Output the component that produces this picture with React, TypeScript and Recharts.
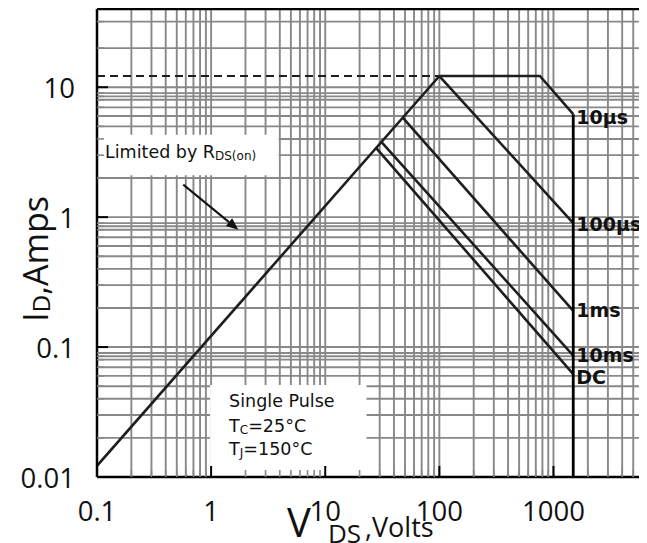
import React from "react";
import {
  CartesianGrid,
  Line,
  LineChart,
  ReferenceArea,
  ReferenceLine,
  XAxis,
  YAxis,
} from "recharts";

const FONT = "'Open Sans', 'Liberation Sans', sans-serif";
const NOTE_FONT = "'DejaVu Sans', Verdana, sans-serif";
const INK = "#1e1e1e";
const GRID = "#888888";

// ejes log-log: V_DS (V) contra I_D (A)
const X_MAJOR = [0.1, 1, 10, 100, 1000];
const X_LABELS = ["0.1", "1", "10", "100", "1000"];
const Y_MAJOR = [0.01, 0.1, 1, 10];
const Y_LABELS = ["0.01", "0.1", "1", "10"];
const X_STEPS = [2, 3, 4, 5, 6, 7, 8, 9];
const Y_STEPS = [2, 3, 4, 5, 6, 7, 8, 8.5, 9];
const Y_EXTRA = [20, 32];
const X_MAX = 6600;
const Y_MAX = 40;

const X_TICKS = [
  ...X_MAJOR,
  ...X_MAJOR.flatMap((d) => X_STEPS.map((m) => d * m)),
].filter((v) => v <= X_MAX).sort((a, b) => a - b);
const Y_TICKS = [
  ...Y_MAJOR,
  ...Y_MAJOR.slice(0, 3).flatMap((d) => Y_STEPS.map((m) => d * m)),
  ...Y_EXTRA,
].sort((a, b) => a - b);

// curvas SOA
const RDS_V = [0.1, 100];
const RDS_I = [0.0122, 12.2];
const LIMIT_V = [0.1, 100];
const LIMIT_I = [12.2, 12.2];
const US10_V = [100, 760, 1490];
const US10_I = [12.2, 12.2, 6.2];
const US100_V = [100, 1490];
const US100_I = [12.2, 0.9];
const MS1_V = [48, 1490];
const MS1_I = [5.8, 0.19];
const MS10_V = [31, 1490];
const MS10_I = [3.8, 0.086];
const DC_V = [28, 1490];
const DC_I = [3.4, 0.062];
const BV_V = [1490, 1490];
const BV_I = [0.01, 6.2];

const pts = (v: number[], i: number[]) => v.map((x, k) => ({ x, y: i[k] }));

const endLabel = (text: string, n: number, dy = 2) => (p: any) => {
  if (p.index !== n - 1) return null;
  const x = p.viewBox?.x ?? p.x;
  const y = p.viewBox?.y ?? p.y;
  return (
    <text
      x={x + 3}
      y={y + dy}
      dominantBaseline="central"
      fontFamily={NOTE_FONT}
      fontWeight={700}
      fontSize={19}
      fill="#111"
    >
      {text}
    </text>
  );
};

const XTick = (p: any) => {
  const { x, y, payload } = p;
  const k = X_MAJOR.indexOf(payload.value);
  if (k < 0) {
    return <line x1={x} x2={x} y1={y} y2={y - 7} stroke={GRID} strokeWidth={1.6} />;
  }
  return (
    <g>
      <line x1={x} x2={x} y1={y} y2={y - 11} stroke="#000" strokeWidth={2} />
      <text
        x={x}
        y={y + 33}
        textAnchor="middle"
        dominantBaseline="central"
        fontFamily={FONT}
        fontSize={27.5}
        fill="#111"
      >
        {X_LABELS[k]}
      </text>
    </g>
  );
};

const YTick = (p: any) => {
  const { x, y, payload } = p;
  const k = Y_MAJOR.indexOf(payload.value);
  if (k < 0) {
    return <line x1={x} x2={x + 7} y1={y} y2={y} stroke={GRID} strokeWidth={1.6} />;
  }
  return (
    <g>
      <line x1={x} x2={x + 11} y1={y} y2={y} stroke="#000" strokeWidth={2} />
      <text
        x={x - 22}
        y={y}
        textAnchor="end"
        dominantBaseline="central"
        fontFamily={FONT}
        fontSize={27.5}
        fill="#111"
      >
        {Y_LABELS[k]}
      </text>
    </g>
  );
};

const Arrow = (p: any) => {
  const { x1, y1, x2, y2 } = p;
  const a = Math.atan2(y2 - y1, x2 - x1);
  const L = 12;
  const W = 5;
  const bx = x2 - L * Math.cos(a);
  const by = y2 - L * Math.sin(a);
  return (
    <g>
      <line x1={x1} y1={y1} x2={bx} y2={by} stroke="#111" strokeWidth={2} />
      <polygon
        points={`${x2},${y2} ${bx + W * Math.sin(a)},${by - W * Math.cos(a)} ${bx - W * Math.sin(a)},${by + W * Math.cos(a)}`}
        fill="#111"
      />
    </g>
  );
};

const LimitedText = (p: any) => {
  const { x, y } = p.viewBox;
  return (
    <text x={x + 8} y={y + 17} dominantBaseline="central" fontFamily={NOTE_FONT} fontSize={17.5} fill="#111">
      Limited by R
      <tspan fontSize={12} dy={4}>DS(on)</tspan>
    </text>
  );
};

const PulseText = (p: any) => {
  const { x, y } = p.viewBox;
  const tx = x + 19;
  return (
    <g fontFamily={NOTE_FONT} fontSize={17.5} fill="#111">
      <text x={tx} y={y + 16} dominantBaseline="central">Single Pulse</text>
      <text x={tx} y={y + 41} dominantBaseline="central">
        T<tspan fontSize={12} dy={4}>C</tspan>
        <tspan dy={-4}>=25°C</tspan>
      </text>
      <text x={tx} y={y + 64} dominantBaseline="central">
        T<tspan fontSize={12} dy={4}>J</tspan>
        <tspan dy={-4}>=150°C</tspan>
      </text>
    </g>
  );
};

const XTitle = () => (
  <text y={529} fontFamily={FONT} fill="#111">
    <tspan x={279} fontSize={40}>V</tspan>
    <tspan x={320} fontSize={26} dy={6}>DS</tspan>
    <tspan x={357} fontSize={27} dy={-6}>,Volts</tspan>
  </text>
);

const YTitle = () => (
  <text transform="translate(40,251) rotate(-90)" textAnchor="middle" fontFamily={FONT} fill="#111">
    <tspan fontSize={35}>I</tspan>
    <tspan fontSize={24} dy={2}>D</tspan>
    <tspan fontSize={34} dy={-2}>,Amps</tspan>
  </text>
);

const curve = { stroke: INK, strokeWidth: 2.6, dot: false, isAnimationActive: false, type: "linear" as const };

export default function App() {
  return (
    <div style={{ width: 639, height: 535 }}>
      <LineChart width={639} height={535} margin={{ top: 1, right: 0, bottom: 0, left: 0 }}>
        <CartesianGrid stroke={GRID} strokeWidth={1.9} />
        <XAxis
          type="number"
          dataKey="x"
          scale="log"
          domain={[0.1, X_MAX]}
          allowDataOverflow
          ticks={X_TICKS}
          interval={0}
          height={66}
          tickSize={0}
          tickMargin={0}
          tickLine={false}
          axisLine={{ stroke: "#000", strokeWidth: 2.5 }}
          tick={<XTick />}
          label={{ content: XTitle }}
        />
        <YAxis
          type="number"
          dataKey="y"
          scale="log"
          domain={[0.01, Y_MAX]}
          allowDataOverflow
          ticks={Y_TICKS}
          interval={0}
          width={89}
          tickSize={0}
          tickMargin={0}
          tickLine={false}
          axisLine={{ stroke: "#000", strokeWidth: 2.5 }}
          tick={<YTick />}
          label={{ content: YTitle }}
        />
        <ReferenceArea x1={0.1} x2={3.9} y1={2.1} y2={4.3} fill="#fff" fillOpacity={1} stroke="none" label={{ content: LimitedText }} />
        <ReferenceArea x1={0.98} x2={23} y1={0.01} y2={0.051} fill="#fff" fillOpacity={1} stroke="none" label={{ content: PulseText }} />
        <ReferenceLine y={Y_MAX} stroke="#000" strokeWidth={2.5} />
        <ReferenceLine
          segment={[{ x: 0.57, y: 1.78 }, { x: 1.73, y: 0.8 }]}
          ifOverflow="visible"
          shape={Arrow}
        />
        <Line data={pts(LIMIT_V, LIMIT_I)} dataKey="y" {...curve} strokeWidth={2.2} strokeDasharray="8 5" />
        <Line data={pts(RDS_V, RDS_I)} dataKey="y" {...curve} />
        <Line data={pts(US10_V, US10_I)} dataKey="y" {...curve} label={endLabel("10µs", 3, 3)} />
        <Line data={pts(US100_V, US100_I)} dataKey="y" {...curve} label={endLabel("100µs", 2, 1)} />
        <Line data={pts(MS1_V, MS1_I)} dataKey="y" {...curve} label={endLabel("1ms", 2, -1)} />
        <Line data={pts(MS10_V, MS10_I)} dataKey="y" {...curve} label={endLabel("10ms", 2, -1)} />
        <Line data={pts(DC_V, DC_I)} dataKey="y" {...curve} label={endLabel("DC", 2, 3)} />
        <Line data={pts(BV_V, BV_I)} dataKey="y" {...curve} stroke="#000" strokeWidth={2.8} />
      </LineChart>
    </div>
  );
}
